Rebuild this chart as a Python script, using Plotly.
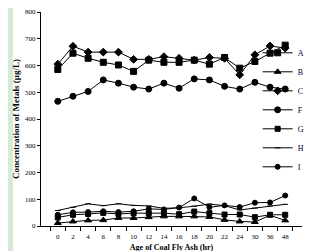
import plotly.graph_objects as go

ages = ["0", "2", "4", "6", "8", "10", "12", "14", "16", "18", "20", "22", "24", "30", "36", "48"]

A = [585, 646, 627, 612, 602, 578, 620, 612, 612, 620, 605, 630, 590, 615, 646, 676]
B = [11, 17, 21, 22, 30, 30, 33, 36, 36, 36, 34, 23, 17, 15, 40, 21]
C = [605, 672, 650, 650, 650, 623, 623, 633, 627, 620, 630, 627, 565, 640, 673, 665]
F = [466, 485, 503, 546, 534, 519, 512, 534, 515, 550, 546, 522, 512, 537, 519, 512]
G = [32, 42, 45, 49, 45, 48, 48, 48, 44, 54, 48, 43, 43, 33, 42, 42]
H = [58, 70, 83, 76, 83, 77, 75, 66, 68, 74, 82, 76, 60, 67, 75, 81]
I = [42, 51, 52, 55, 52, 55, 64, 62, 69, 103, 70, 77, 71, 87, 88, 114]

series = [
    ("A", A, "square", 6),
    ("B", B, "triangle-up", 6),
    ("C", C, "diamond", 6),
    ("F", F, "circle", 6),
    ("G", G, "square", 5),
    ("H", H, "line-ew", 4),
    ("I", I, "circle", 5),
]

fig = go.Figure()
for name, vals, sym, sz in series:
    fig.add_trace(go.Scatter(
        x=ages, y=vals, name=name, mode="lines+markers",
        line=dict(color="black", width=1),
        marker=dict(symbol=sym, size=sz, color="black",
                    line=dict(color="black", width=1)),
    ))

font = "Liberation Serif"
fig.update_layout(
    width=320, height=251,
    margin=dict(l=33, r=26, t=4, b=33, autoexpand=False),
    paper_bgcolor="#d6ebd6",
    plot_bgcolor="white",
    font=dict(family=font, size=7, color="black"),
    showlegend=True,
    legend=dict(x=0.83, xanchor="left", y=0.543, yanchor="middle",
                bgcolor="rgba(0,0,0,0)", itemwidth=30,
                font=dict(family=font, size=8, color="#000033"),
                tracegroupgap=0),
    shapes=[dict(type="rect", xref="paper", yref="paper",
                 x0=-0.107, x1=1.08, y0=-0.2, y1=1.1,
                 fillcolor="white", line=dict(width=0), layer="below")],
)
fig.update_xaxes(
    type="category", showgrid=False, showline=True, linecolor="black", linewidth=1,
    ticks="outside", ticklen=4, tickcolor="black", tickson="boundaries",
    tickangle=0,
    tickfont=dict(family=font, size=7, color="black"),
    ticklabelstandoff=4,
    title=dict(text="<b>Age of Coal Fly Ash (hr)</b>", font=dict(family=font, size=8), standoff=3),
)
fig.update_yaxes(
    range=[0, 800], dtick=100, showgrid=False, showline=True, linecolor="black", linewidth=1,
    ticks="outside", ticklen=3, tickcolor="black", zeroline=False,
    tickfont=dict(family=font, size=7, color="black"),
    title=dict(text="<b>Concentration of Metals (µg/L)</b>", font=dict(family=font, size=9), standoff=3),
)

fig.write_html("out.html")
